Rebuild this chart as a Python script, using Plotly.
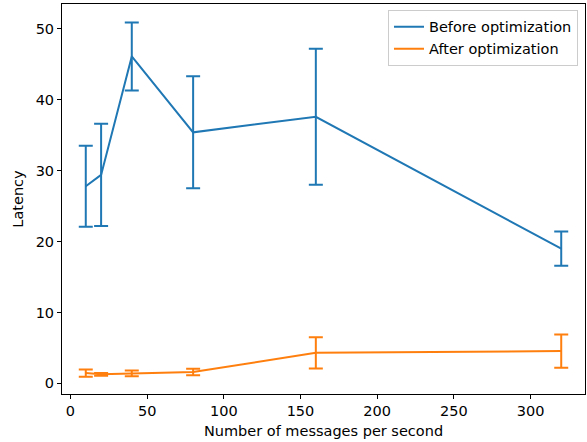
import plotly.graph_objects as go

rates = [10, 20, 40, 80, 160, 320]
before_mean = [27.8, 29.4, 46.1, 35.4, 37.6, 19.0]
before_err = [5.7, 7.2, 4.8, 7.9, 9.6, 2.4]
after_mean = [1.45, 1.27, 1.4, 1.6, 4.3, 4.55]
after_err = [0.5, 0.2, 0.4, 0.45, 2.2, 2.35]

x_ticks = [0, 50, 100, 150, 200, 250, 300]
y_ticks = [0, 10, 20, 30, 40, 50]

blue = "#1f77b4"
orange = "#ff7f0e"
FS = 14.5

fig = go.Figure()
fig.add_trace(go.Scatter(
    x=rates, y=before_mean, mode="lines", name="Before optimization",
    line=dict(color=blue, width=2),
    error_y=dict(type="data", array=before_err, visible=True, color=blue, thickness=2, width=7),
))
fig.add_trace(go.Scatter(
    x=rates, y=after_mean, mode="lines", name="After optimization",
    line=dict(color=orange, width=2),
    error_y=dict(type="data", array=after_err, visible=True, color=orange, thickness=2, width=7),
))

axis_common = dict(
    showline=True, linecolor="black", linewidth=1, mirror=True,
    ticks="outside", ticklen=4, tickcolor="black", showgrid=False, zeroline=False,
    tickfont=dict(family="DejaVu Sans", size=FS, color="black"),
    automargin=False,
)
fig.update_xaxes(range=[-5.5, 335.5], tickvals=x_ticks,
                 title=dict(text="Number of messages per second", font=dict(family="DejaVu Sans", size=FS, color="black"), standoff=7),
                 **axis_common)
fig.update_yaxes(range=[-1.5, 53.5], tickvals=y_ticks,
                 title=dict(text="Latency", font=dict(family="DejaVu Sans", size=FS, color="black"), standoff=8),
                 **axis_common)

fig.update_layout(
    width=587, height=442,
    margin=dict(l=62, r=2, t=4, b=48, autoexpand=False),
    plot_bgcolor="white", paper_bgcolor="white",
    font=dict(family="DejaVu Sans", size=FS, color="black"),
    legend=dict(x=0.9866, y=0.985, xanchor="right", yanchor="top",
                bgcolor="rgba(255,255,255,0.8)", bordercolor="#cccccc", borderwidth=1,
                font=dict(family="DejaVu Sans", size=FS, color="black"),
                tracegroupgap=0),
    showlegend=True,
)

fig.write_html("out.html", config={"displayModeBar": False},
               post_script="document.body.style.margin='0';document.body.style.padding='0';document.body.style.overflow='hidden';")
